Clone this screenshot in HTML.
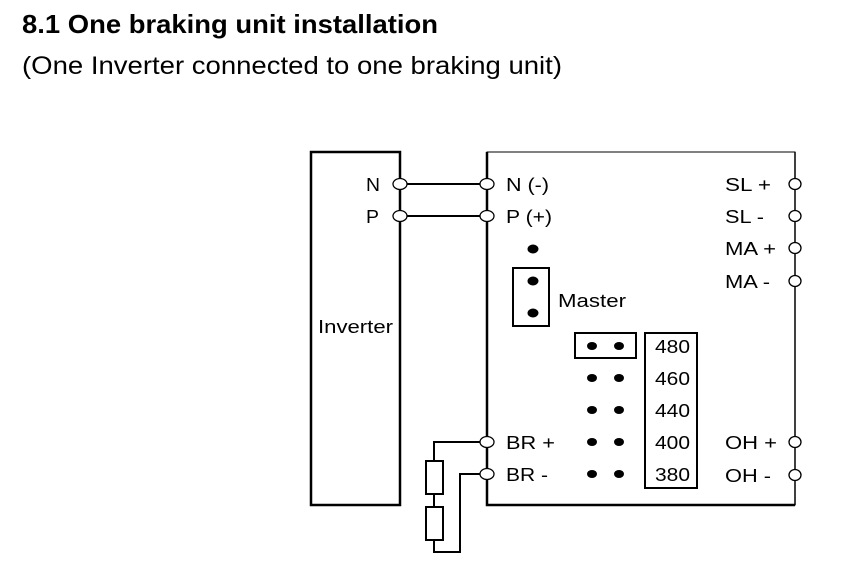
<!DOCTYPE html>
<html><head><style>
body{margin:0;background:#fff;width:853px;height:564px;overflow:hidden}
svg{display:block}
text{font-family:"Liberation Sans",Arial,sans-serif;fill:#000}
</style></head><body>
<svg width="853" height="564" viewBox="0 0 853 564">
<text x="22" y="33" font-size="26" font-weight="bold" textLength="416" lengthAdjust="spacingAndGlyphs">8.1 One braking unit installation</text>
<text x="22" y="74" font-size="25" textLength="540" lengthAdjust="spacingAndGlyphs">(One Inverter connected to one braking unit)</text>
<g fill="none" stroke="#000">
<rect x="311" y="152" width="89" height="353" stroke-width="2.5"/>
<path d="M487 505 V152 H795 V505 Z" stroke-width="1"/>
<path d="M487 152 V505 H795" stroke-width="2.5"/>
<path d="M795 152 V505" stroke-width="1.5"/>
<path d="M400 184 H487 M400 216 H487" stroke-width="2"/>
<path d="M487 442 H434 V461 M434 494 V507 M434 540 V552 H460 V474 H487" stroke-width="2"/>
<rect x="426" y="461" width="17" height="33" stroke-width="2"/>
<rect x="426" y="507" width="17" height="33" stroke-width="2"/>
<rect x="513" y="268" width="36" height="58" stroke-width="2"/>
<rect x="575" y="333" width="61" height="25" stroke-width="2"/>
<rect x="645" y="333" width="52" height="155" stroke-width="2"/>
</g>
<g fill="#fff" stroke="#000" stroke-width="1.3">
<ellipse cx="400" cy="184" rx="7" ry="5.5"/><ellipse cx="400" cy="216" rx="7" ry="5.5"/>
<ellipse cx="487" cy="184" rx="7" ry="5.5"/><ellipse cx="487" cy="216" rx="7" ry="5.5"/>
<ellipse cx="487" cy="442" rx="7" ry="5.5"/><ellipse cx="487" cy="474" rx="7" ry="5.5"/>
<ellipse cx="795" cy="184" rx="6" ry="5.5"/><ellipse cx="795" cy="216" rx="6" ry="5.5"/>
<ellipse cx="795" cy="248" rx="6" ry="5.5"/><ellipse cx="795" cy="281" rx="6" ry="5.5"/>
<ellipse cx="795" cy="442" rx="6" ry="5.5"/><ellipse cx="795" cy="475" rx="6" ry="5.5"/>
</g>
<g fill="#000">
<ellipse cx="533" cy="249" rx="5.5" ry="4.5"/><ellipse cx="533" cy="281" rx="5.5" ry="4.5"/><ellipse cx="533" cy="313" rx="5.5" ry="4.5"/>
<ellipse cx="592" cy="346" rx="5" ry="4"/><ellipse cx="619" cy="346" rx="5" ry="4"/>
<ellipse cx="592" cy="378" rx="5" ry="4"/><ellipse cx="619" cy="378" rx="5" ry="4"/>
<ellipse cx="592" cy="410" rx="5" ry="4"/><ellipse cx="619" cy="410" rx="5" ry="4"/>
<ellipse cx="592" cy="442" rx="5" ry="4"/><ellipse cx="619" cy="442" rx="5" ry="4"/>
<ellipse cx="592" cy="474" rx="5" ry="4"/><ellipse cx="619" cy="474" rx="5" ry="4"/>
</g>
<g font-size="18" lengthAdjust="spacingAndGlyphs">
<text x="366" y="191" textLength="14" lengthAdjust="spacingAndGlyphs">N</text>
<text x="366" y="223" textLength="13" lengthAdjust="spacingAndGlyphs">P</text>
<text x="318" y="333" textLength="75" lengthAdjust="spacingAndGlyphs">Inverter</text>
<text x="506" y="191" textLength="43" lengthAdjust="spacingAndGlyphs">N (-)</text>
<text x="506" y="223" textLength="46" lengthAdjust="spacingAndGlyphs">P (+)</text>
<text x="558" y="307" textLength="68" lengthAdjust="spacingAndGlyphs">Master</text>
<text x="506" y="449" textLength="49" lengthAdjust="spacingAndGlyphs">BR +</text>
<text x="506" y="481" textLength="42" lengthAdjust="spacingAndGlyphs">BR -</text>
<text x="725" y="191" textLength="46" lengthAdjust="spacingAndGlyphs">SL +</text>
<text x="725" y="223" textLength="39" lengthAdjust="spacingAndGlyphs">SL -</text>
<text x="725" y="255" textLength="51" lengthAdjust="spacingAndGlyphs">MA +</text>
<text x="725" y="288" textLength="45" lengthAdjust="spacingAndGlyphs">MA -</text>
<text x="725" y="449" textLength="52" lengthAdjust="spacingAndGlyphs">OH +</text>
<text x="725" y="482" textLength="46" lengthAdjust="spacingAndGlyphs">OH -</text>
<text x="655" y="353" textLength="35" lengthAdjust="spacingAndGlyphs">480</text>
<text x="655" y="385" textLength="35" lengthAdjust="spacingAndGlyphs">460</text>
<text x="655" y="417" textLength="35" lengthAdjust="spacingAndGlyphs">440</text>
<text x="655" y="449" textLength="35" lengthAdjust="spacingAndGlyphs">400</text>
<text x="655" y="481" textLength="35" lengthAdjust="spacingAndGlyphs">380</text>
</g>
</svg>
</body></html>
